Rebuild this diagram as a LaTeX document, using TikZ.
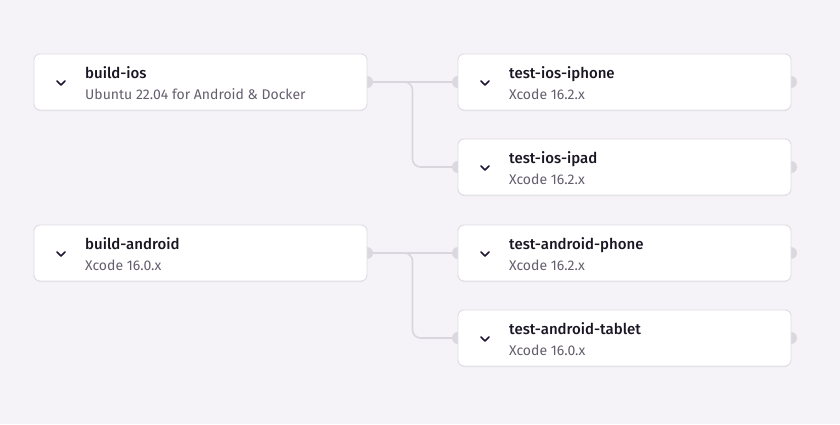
\documentclass[tikz,border=0pt]{standalone}
\usepackage{fontspec}
\setmainfont{Fira Sans}
\newfontfamily\titlefont{Fira Sans Medium}
\usetikzlibrary{calc}
\pgfdeclarelayer{bg}
\pgfdeclarelayer{back}
\pgfsetlayers{bg,back,main}
\definecolor{bgc}{HTML}{F5F3F7}
\definecolor{bordc}{HTML}{DFDCE3}
\definecolor{linec}{HTML}{DAD6DD}
\definecolor{portc}{HTML}{DCD8DF}
\definecolor{titc}{HTML}{1A1523}
\definecolor{subc}{HTML}{655E6E}
\definecolor{chevc}{HTML}{1E1433}
\definecolor{shadc}{HTML}{E6E3E9}
\tikzset{
  x=1pt, y=-1pt,
  jobbox/.style={draw=bordc, line width=0.9pt, fill=white, rounded corners=6pt,
    minimum width=333pt, minimum height=56pt, anchor=north west, inner sep=0pt, outer sep=0pt},
  ttl/.style={anchor=base west, inner sep=0pt, text=titc, font=\titlefont\fontsize{15}{17}\selectfont},
  sub/.style={anchor=base west, inner sep=0pt, text=subc, font=\fontsize{14}{16}\selectfont},
  conn/.style={draw=linec, line width=1.6pt, rounded corners=8pt},
  port/.style={fill=portc, draw=none},
  chev/.style={draw=chevc, line width=1.7pt, line cap=round, line join=round},
}
\newcommand{\job}[5]{% name, x, y, title, subtitle
  \node[jobbox] (#1) at (#2,#3) {};
  \node[ttl] (#1-t) at ($(#1.west)+(51,-4)$) {#4};
  \node[sub] (#1-s) at ($(#1.west)+(51,17)$) {#5};
  \coordinate (#1-c) at ($(#1.west)+(27,1)$);
  \draw[chev] ($(#1-c)+(-4,-2)$) -- ($(#1-c)+(0,2)$) -- ($(#1-c)+(4,-2)$);
  \begin{pgfonlayer}{back}
    \fill[shadc, rounded corners=6pt] ($(#1.south west)+(1,1.2)$) rectangle ($(#1.north east)+(-1,4)$);
  \end{pgfonlayer}
}
\begin{document}
\begin{tikzpicture}
\begin{pgfonlayer}{bg}
  \fill[bgc] (0,0) rectangle (840,424);
\end{pgfonlayer}
\useasboundingbox (0,0) rectangle (840,424);
\job{bi}{34}{54}{build-ios}{Ubuntu 22.04 for Android \& Docker}
\job{tip}{458}{54}{test-ios-iphone}{Xcode 16.2.x}
\job{tipad}{458}{139}{test-ios-ipad}{Xcode 16.2.x}
\job{ba}{34}{225}{build-android}{Xcode 16.0.x}
\job{tap}{458}{225}{test-android-phone}{Xcode 16.2.x}
\job{tat}{458}{310}{test-android-tablet}{Xcode 16.0.x}
\coordinate (m1) at ($(bi.east)!0.5!(tip.west)$);
\coordinate (m2) at ($(ba.east)!0.5!(tap.west)$);
\begin{pgfonlayer}{back}
  \draw[conn] (bi.east) -- (tip.west);
  \draw[conn] (bi.east) -- (m1) -- (m1 |- tipad.west) -- (tipad.west);
  \draw[conn] (ba.east) -- (tap.west);
  \draw[conn] (ba.east) -- (m2) -- (m2 |- tat.west) -- (tat.west);
  \foreach \n in {bi,tip,tipad,ba,tap,tat} {\fill[port] (\n.east) circle (6);}
  \foreach \n in {tip,tipad,tap,tat} {\fill[port] (\n.west) circle (6);}
\end{pgfonlayer}
\end{tikzpicture}
\end{document}
